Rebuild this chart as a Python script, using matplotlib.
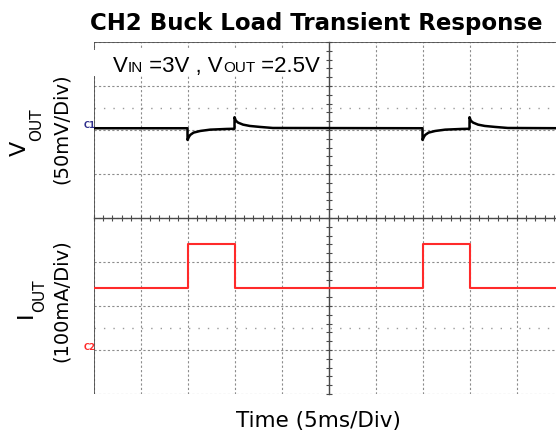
import matplotlib
matplotlib.use('Agg')
import numpy as np
import matplotlib.pyplot as plt
from matplotlib.patches import Rectangle
from matplotlib.ticker import MultipleLocator

# scope settings
ms_per_div = 5
vout_mv_per_div = 50
iout_ma_per_div = 100
c1_pos_div = 6.04      # VOUT trace marker (divisions from bottom)
c2_pos_div = 1.0       # IOUT zero marker

# load steps (ms)
step_up_ms = [10, 35]
step_down_ms = [15, 40]
iout_low_ma = 140
iout_high_ma = 240

# VOUT deviation after the load steps (ms after the step, mV)
up_t = [0, 0.005, 0.15, 0.29, 0.64, 1.35, 2.41, 4.18]
up_mv = [0, -13.3, -9.9, -7.6, -5.0, -3.1, -1.6, -0.8]
down_t = [0, 0.005, 0.14, 0.38, 0.91, 1.63, 2.7, 4.08]
down_mv = [-0.6, 12.5, 8.6, 6.4, 4.1, 2.6, 1.5, 0.3]
t_end = 50

# build traces
events = sorted([(s, up_t, up_mv) for s in step_up_ms] +
                [(s, down_t, down_mv) for s in step_down_ms])
vt, vv = [0.0], [0.0]
for s, ta, va in events:
    vt += [s + x for x in ta]
    vv += list(va)
vt.append(t_end)
vv.append(0.0)
vt = np.array(vt)
vout_div = c1_pos_div + np.array(vv) / vout_mv_per_div

it, iv = [0.0], [iout_low_ma]
for up, dn in zip(step_up_ms, step_down_ms):
    it += [up, up, dn, dn]
    iv += [iout_low_ma, iout_high_ma, iout_high_ma, iout_low_ma]
it.append(t_end)
iv.append(iout_low_ma)
iout_div = c2_pos_div + np.array(iv) / iout_ma_per_div

W, H = 556, 430
fig = plt.figure(figsize=(W / 100, H / 100), dpi=100)
ax = fig.add_axes([93.5 / W, (H - 394) / H, 470 / W, 352 / H])
ax.set_xlim(0, 10 * ms_per_div)
ax.set_ylim(0, 8)

ax.xaxis.set_major_locator(MultipleLocator(ms_per_div))
ax.xaxis.set_minor_locator(MultipleLocator(ms_per_div / 5))
ax.yaxis.set_major_locator(MultipleLocator(1))
ax.yaxis.set_minor_locator(MultipleLocator(0.2))
ax.grid(True, which='major', color='#8c8c8c', linestyle=(0, (2, 2)), linewidth=0.8)

# centre cross with fine ticks
ax.spines['bottom'].set_position(('data', 4))
ax.spines['left'].set_position(('data', 5 * ms_per_div))
for sp in ['top', 'right']:
    ax.spines[sp].set_visible(False)
for sp in ['bottom', 'left']:
    ax.spines[sp].set_color('#4a4a4a')
    ax.spines[sp].set_linewidth(1.0)
ax.tick_params(which='both', direction='inout', length=5, width=0.8, color='#4a4a4a',
               labelbottom=False, labelleft=False)

# screen border
ax.axvline(0, color='#4a4a4a', lw=1.2, zorder=3)
ax.axhline(8, color='#4a4a4a', lw=1.2, zorder=3)

# dotted reference lines
for y in [6.5, 1.5]:
    ax.axhline(y, color='#9a9a9a', lw=1.0, linestyle=(0, (1, 5.8)))

ax.plot(vt, vout_div, color='black', lw=1.8, zorder=4)
ax.plot(it, iout_div, color='#ff2a2a', lw=1.5, zorder=4)

# condition label on white box
ax.add_patch(Rectangle((0, 0.903), 0.495, 0.074, transform=ax.transAxes,
                       facecolor='white', edgecolor='none', zorder=5))
pieces = [('V', 16), ('IN', 11), (' =3V , V', 16), ('OUT', 11), (' =2.5V', 16)]
prev = None
base_y = (394 - 72.3) / 352
for s, fs in pieces:
    if prev is None:
        prev = ax.text(19.5 / 470, base_y, s, transform=ax.transAxes, fontsize=fs,
                       family='Liberation Sans', va='baseline', ha='left', zorder=6)
    else:
        prev = ax.annotate(s, xy=(1, base_y), xycoords=(prev, 'axes fraction'),
                           fontsize=fs, family='Liberation Sans', va='baseline',
                           ha='left', zorder=6)

# channel markers
fig.text(84 / W, 1 - 128 / H, 'C1', fontsize=6, color='#2e2e8c', fontweight='bold',
         ha='left', va='baseline')
fig.text(84 / W, 1 - 350 / H, 'C2', fontsize=6, color='#ff2a2a', fontweight='bold',
         ha='left', va='baseline')

fig.text(316.5 / W, 1 - 30 / H, 'CH2 Buck Load Transient Response', fontsize=16.5,
         fontweight='bold', ha='center', va='baseline')
fig.text(318.5 / W, (H - 426.7) / H, 'Time (5ms/Div)', fontsize=15.5,
         ha='center', va='baseline')

# y labels
fig.text(61 / W, 1 - 129 / H, '(50mV/Div)', fontsize=14, rotation=90, ha='center', va='center')
fig.text(61 / W, 1 - 301 / H, '(100mA/Div)', fontsize=14, rotation=90, ha='center', va='center')

v = fig.text(20 / W, 1 - 156 / H, 'V', fontsize=16, rotation=90, ha='center', va='bottom')
ax.annotate('OUT', xy=(37 / W, 1), xycoords=('figure fraction', v), fontsize=11,
            rotation=90, ha='center', va='bottom', annotation_clip=False)
i = fig.text(26 / W, 1 - 318 / H, 'I', fontsize=16, rotation=90, ha='center', va='bottom')
ax.annotate('OUT', xy=(40 / W, 1), xycoords=('figure fraction', i), fontsize=11,
            rotation=90, ha='center', va='bottom', annotation_clip=False)

fig.savefig('out.png', dpi=100)
